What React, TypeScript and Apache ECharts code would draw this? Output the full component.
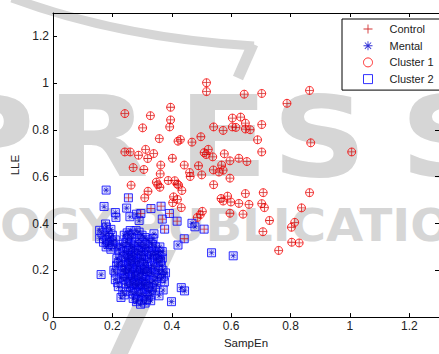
import React, { useEffect, useRef } from "react";
import * as echarts from "echarts";

// x = SampEn, y = LLE
const controlInCluster1: [number, number][] = [
  [0.242, 0.870], [0.328, 0.861], [0.396, 0.897], [0.396, 0.843], [0.393, 0.813], [0.302, 0.809],
  [0.517, 1.002], [0.517, 0.964], [0.541, 0.813], [0.358, 0.763], [0.421, 0.752], [0.429, 0.759],
  [0.468, 0.748], [0.498, 0.771], [0.242, 0.706], [0.26, 0.706], [0.288, 0.692], [0.312, 0.717],
  [0.319, 0.678], [0.339, 0.699], [0.402, 0.679], [0.363, 0.650], [0.27, 0.639], [0.306, 0.631],
  [0.442, 0.650], [0.49, 0.647], [0.509, 0.703], [0.523, 0.717], [0.516, 0.695], [0.538, 0.685],
  [0.54, 0.629], [0.46, 0.618], [0.501, 0.608], [0.361, 0.612], [0.644, 0.953], [0.703, 0.956],
  [0.864, 0.969], [0.788, 0.914], [0.604, 0.851], [0.632, 0.855], [0.604, 0.813], [0.616, 0.811],
  [0.648, 0.829], [0.648, 0.804], [0.664, 0.801], [0.573, 0.798], [0.703, 0.823], [0.689, 0.758],
  [0.868, 0.745], [0.703, 0.706], [1.006, 0.706], [0.577, 0.698], [0.596, 0.668], [0.626, 0.679],
  [0.653, 0.665], [0.568, 0.650], [0.573, 0.628], [0.596, 0.594], [0.348, 0.577], [0.36, 0.555],
  [0.353, 0.566], [0.388, 0.584], [0.41, 0.583], [0.423, 0.564], [0.434, 0.541], [0.32, 0.538],
  [0.309, 0.510], [0.406, 0.514], [0.419, 0.503], [0.403, 0.489], [0.541, 0.566], [0.432, 0.468],
  [0.503, 0.452], [0.496, 0.438], [0.486, 0.426], [0.263, 0.564], [0.559, 0.620], [0.648, 0.528],
  [0.708, 0.532], [0.864, 0.532], [0.588, 0.517], [0.566, 0.507], [0.573, 0.496], [0.599, 0.492],
  [0.626, 0.486], [0.66, 0.482], [0.703, 0.485], [0.712, 0.468], [0.837, 0.467], [0.596, 0.444],
  [0.64, 0.440], [0.729, 0.413], [0.814, 0.405], [0.803, 0.384], [0.707, 0.365], [0.804, 0.320],
  [0.829, 0.317], [0.76, 0.285], [0.418, 0.569], [0.462, 0.601]
];

const controlInCluster2: [number, number][] = [
  [0.254, 0.51], [0.33, 0.464], [0.364, 0.474], [0.296, 0.443], [0.392, 0.443], [0.368, 0.419],
  [0.418, 0.41], [0.376, 0.376], [0.442, 0.335], [0.509, 0.376]
];

const mentalInCluster2: [number, number][] = [
  [0.179, 0.543], [0.172, 0.473], [0.21, 0.447], [0.212, 0.426], [0.248, 0.466], [0.259, 0.429],
  [0.281, 0.44], [0.29, 0.413], [0.177, 0.398], [0.157, 0.371], [0.157, 0.335], [0.179, 0.30],
  [0.162, 0.182], [0.21, 0.189], [0.214, 0.22], [0.218, 0.147], [0.229, 0.084], [0.281, 0.066],
  [0.329, 0.07], [0.357, 0.091], [0.399, 0.066], [0.432, 0.126], [0.443, 0.112], [0.371, 0.116],
  [0.421, 0.308], [0.534, 0.275], [0.357, 0.28], [0.368, 0.252], [0.373, 0.175], [0.379, 0.189],
  [0.34, 0.356], [0.337, 0.336], [0.29, 0.363], [0.468, 0.401], [0.478, 0.386], [0.607, 0.262],
  [0.18, 0.385], [0.185, 0.36], [0.195, 0.375], [0.2, 0.35], [0.19, 0.34], [0.175, 0.35],
  [0.17, 0.32], [0.185, 0.31], [0.2, 0.325], [0.21, 0.3], [0.22, 0.29], [0.195, 0.29],
  [0.24, 0.35], [0.25, 0.36], [0.26, 0.37], [0.27, 0.355], [0.28, 0.37], [0.265, 0.34],
  [0.3, 0.35], [0.31, 0.34], [0.32, 0.33], [0.335, 0.31], [0.345, 0.3], [0.33, 0.32],
  [0.23, 0.31], [0.24, 0.3], [0.25, 0.32], [0.26, 0.31], [0.27, 0.3], [0.28, 0.32],
  [0.29, 0.31], [0.3, 0.3], [0.31, 0.29], [0.32, 0.3], [0.34, 0.28], [0.35, 0.27],
  [0.36, 0.26], [0.24, 0.28], [0.25, 0.27], [0.26, 0.265], [0.27, 0.28], [0.28, 0.29],
  [0.29, 0.27], [0.3, 0.28], [0.31, 0.265], [0.33, 0.26], [0.225, 0.27], [0.215, 0.25],
  [0.23, 0.24], [0.245, 0.25], [0.255, 0.24], [0.265, 0.245], [0.275, 0.255], [0.285, 0.24],
  [0.295, 0.25], [0.305, 0.245], [0.315, 0.235], [0.325, 0.25], [0.345, 0.245], [0.355, 0.235],
  [0.365, 0.22], [0.37, 0.2], [0.22, 0.23], [0.235, 0.22], [0.245, 0.21], [0.255, 0.225],
  [0.265, 0.215], [0.275, 0.23], [0.285, 0.22], [0.295, 0.21], [0.305, 0.225], [0.315, 0.215],
  [0.325, 0.205], [0.335, 0.22], [0.345, 0.21], [0.355, 0.2], [0.36, 0.185], [0.24, 0.2],
  [0.25, 0.19], [0.26, 0.2], [0.27, 0.19], [0.28, 0.2], [0.29, 0.19], [0.3, 0.2],
  [0.31, 0.19], [0.32, 0.18], [0.33, 0.19], [0.34, 0.18], [0.35, 0.17], [0.365, 0.165],
  [0.375, 0.15], [0.23, 0.17], [0.24, 0.16], [0.25, 0.17], [0.26, 0.16], [0.27, 0.17],
  [0.28, 0.155], [0.29, 0.165], [0.3, 0.15], [0.31, 0.16], [0.32, 0.15], [0.33, 0.145],
  [0.34, 0.155], [0.35, 0.14], [0.245, 0.14], [0.255, 0.13], [0.265, 0.14], [0.275, 0.125],
  [0.285, 0.135], [0.295, 0.12], [0.305, 0.13], [0.315, 0.12], [0.325, 0.11], [0.335, 0.125],
  [0.345, 0.115], [0.26, 0.11], [0.27, 0.1], [0.28, 0.105], [0.29, 0.095], [0.3, 0.1],
  [0.31, 0.09], [0.32, 0.085], [0.33, 0.095], [0.27, 0.08], [0.285, 0.075], [0.3, 0.07],
  [0.31, 0.06], [0.295, 0.055], [0.315, 0.075], [0.25, 0.335], [0.255, 0.285], [0.262, 0.295],
  [0.268, 0.262], [0.278, 0.27], [0.288, 0.285], [0.298, 0.262], [0.255, 0.255], [0.262, 0.23],
  [0.272, 0.24], [0.282, 0.21], [0.292, 0.235], [0.302, 0.185], [0.258, 0.205], [0.268, 0.18],
  [0.278, 0.175], [0.288, 0.18], [0.298, 0.17], [0.308, 0.205], [0.318, 0.195], [0.262, 0.15],
  [0.272, 0.145], [0.282, 0.14], [0.292, 0.145], [0.302, 0.14], [0.312, 0.14], [0.322, 0.13],
  [0.242, 0.185], [0.232, 0.2], [0.236, 0.26], [0.246, 0.32], [0.256, 0.35], [0.29, 0.335],
  [0.3, 0.32], [0.31, 0.31], [0.322, 0.28], [0.332, 0.27], [0.342, 0.265], [0.352, 0.25],
  [0.362, 0.24], [0.368, 0.28], [0.36, 0.3], [0.165, 0.36], [0.18, 0.33], [0.19, 0.32],
  [0.2, 0.31], [0.21, 0.33], [0.205, 0.2], [0.21, 0.16], [0.22, 0.13], [0.235, 0.11], [0.24, 0.095]
];

const seriesNames = ["Control", "Mental", "Cluster 1", "Cluster 2"];
const axisMin = 0;
const axisMax = 1.3;
const tickStep = 0.2;

const PLUS = "path://M0,4.5H10V5.5H0Z M4.5,0H5.5V10H4.5Z";
const STAR =
  "path://M0,4.5H10V5.5H0Z M4.5,0H5.5V10H4.5Z M1.15,1.85L1.85,1.15L8.85,8.15L8.15,8.85Z M8.15,1.15L8.85,1.85L1.85,8.85L1.15,8.15Z";

const FONT = "'Liberation Sans', Arial, sans-serif";
const WM = "#d6d6d6";

export default function App() {
  const ref = useRef<HTMLDivElement>(null);
  useEffect(() => {
    if (!ref.current) return;
    const chart = echarts.init(ref.current, undefined, { renderer: "svg" });
    const wmLetter = (ch: string, x: number) => ({
      type: "text",
      silent: true,
      z: 0,
      x,
      y: 137,
      scaleX: 1.18,
      style: {
        text: ch,
        x: 0,
        y: 0,
        font: "bold 112px 'DejaVu Sans'",
        lineHeight: 84,
        fill: WM,
        verticalAlign: "middle",
        textVerticalAlign: "middle",
      },
    });
    const axisCommon = {
      type: "value" as const,
      min: axisMin,
      max: axisMax,
      interval: tickStep,
      splitLine: { show: false },
      axisLine: { show: true, onZero: false, lineStyle: { color: "#000", width: 1 } },
      axisTick: { show: true, inside: true, length: 4, lineStyle: { color: "#000" } },
    };
    chart.setOption({
      animation: false,
      backgroundColor: "#fff",
      textStyle: { fontFamily: FONT },
      grid: { left: 53, top: 13, right: -4, bottom: 32, containLabel: false },
      graphic: [
        {
          type: "bezierCurve",
          silent: true,
          z: 0,
          shape: { x1: 12, y1: -2, cpx1: 120, cpy1: 38, x2: 254, y2: 46 },
          style: { stroke: WM, lineWidth: 9, fill: "none" },
        },
        {
          type: "line",
          silent: true,
          z: 0,
          shape: { x1: 253, y1: 44, x2: 238, y2: 78 },
          style: { stroke: WM, lineWidth: 11 },
        },
        wmLetter("P", -62),
        wmLetter("R", 47),
        wmLetter("E", 178),
        wmLetter("S", 272),
        wmLetter("S", 400),
        {
          type: "text",
          silent: true,
          z: 0,
          x: 0,
          y: 226,
          scaleX: 1.07,
          style: {
            text: "OGY PUBLICATIONS",
            x: 0,
            y: 0,
            font: "bold 45px 'DejaVu Sans'",
            lineHeight: 34,
            fill: WM,
            verticalAlign: "middle",
            textVerticalAlign: "middle",
          },
        },
        {
          type: "polygon",
          silent: true,
          z: 0,
          shape: { points: [[110, 354], [128, 354], [176, 250], [158, 250]] },
          style: { fill: WM },
        },
      ],
      legend: {
        orient: "vertical",
        left: 342,
        top: 19,
        padding: [3, 16, 4, 21],
        itemWidth: 9,
        itemHeight: 9,
        itemGap: 2.7,
        selectedMode: false,
        backgroundColor: "#fff",
        borderColor: "#000",
        borderWidth: 1,
        borderRadius: 0,
        textStyle: { fontSize: 11, color: "#222", fontFamily: FONT, lineHeight: 14, padding: [0, 0, 0, 12] },
        data: [
          { name: seriesNames[0], itemStyle: { borderWidth: 0 } },
          { name: seriesNames[1], itemStyle: { borderWidth: 0 } },
          { name: seriesNames[2], itemStyle: { borderWidth: 1, borderColor: "#ff0000", color: "#fff" } },
          { name: seriesNames[3], itemStyle: { borderWidth: 1, borderColor: "#0000ff", color: "#fff" } },
        ],
      },
      xAxis: [
        {
          ...axisCommon,
          position: "bottom",
          name: "SampEn",
          nameLocation: "middle",
          nameGap: 19,
          nameTextStyle: { fontSize: 11.5, color: "#222", fontFamily: FONT },
          axisLabel: { margin: 3, fontSize: 12, color: "#222", fontFamily: FONT, showMaxLabel: false },
        },
        { ...axisCommon, position: "top", axisLabel: { show: false } },
      ],
      yAxis: [
        {
          ...axisCommon,
          position: "left",
          name: "LLE",
          nameLocation: "middle",
          nameGap: 25,
          nameTextStyle: { fontSize: 11.5, color: "#222", fontFamily: FONT },
          axisLabel: { margin: 4, fontSize: 12, color: "#222", fontFamily: FONT, showMaxLabel: false },
        },
        { ...axisCommon, position: "right", axisLabel: { show: false } },
      ],
      series: [
        {
          name: seriesNames[2],
          type: "scatter",
          z: 2,
          symbol: "circle",
          symbolSize: 8,
          itemStyle: { color: "rgba(255,0,0,0.06)", borderColor: "#ff0000", borderWidth: 1 },
          data: controlInCluster1,
        },
        {
          name: seriesNames[3],
          type: "scatter",
          z: 2,
          symbol: "rect",
          symbolSize: 8,
          itemStyle: { color: "rgba(110,110,255,0.3)", borderColor: "#0000ff", borderWidth: 1 },
          data: [...mentalInCluster2, ...controlInCluster2],
        },
        {
          name: seriesNames[0],
          type: "scatter",
          z: 3,
          symbol: PLUS,
          symbolSize: 8,
          itemStyle: { color: "#c80000" },
          data: [...controlInCluster1, ...controlInCluster2],
        },
        {
          name: seriesNames[1],
          type: "scatter",
          z: 3,
          symbol: STAR,
          symbolSize: 6,
          itemStyle: { color: "#0000cc" },
          data: mentalInCluster2,
        },
      ],
    });
    return () => chart.dispose();
  }, []);
  return <div ref={ref} style={{ width: 439, height: 354, position: "absolute", left: 0, top: 0 }} />;
}
